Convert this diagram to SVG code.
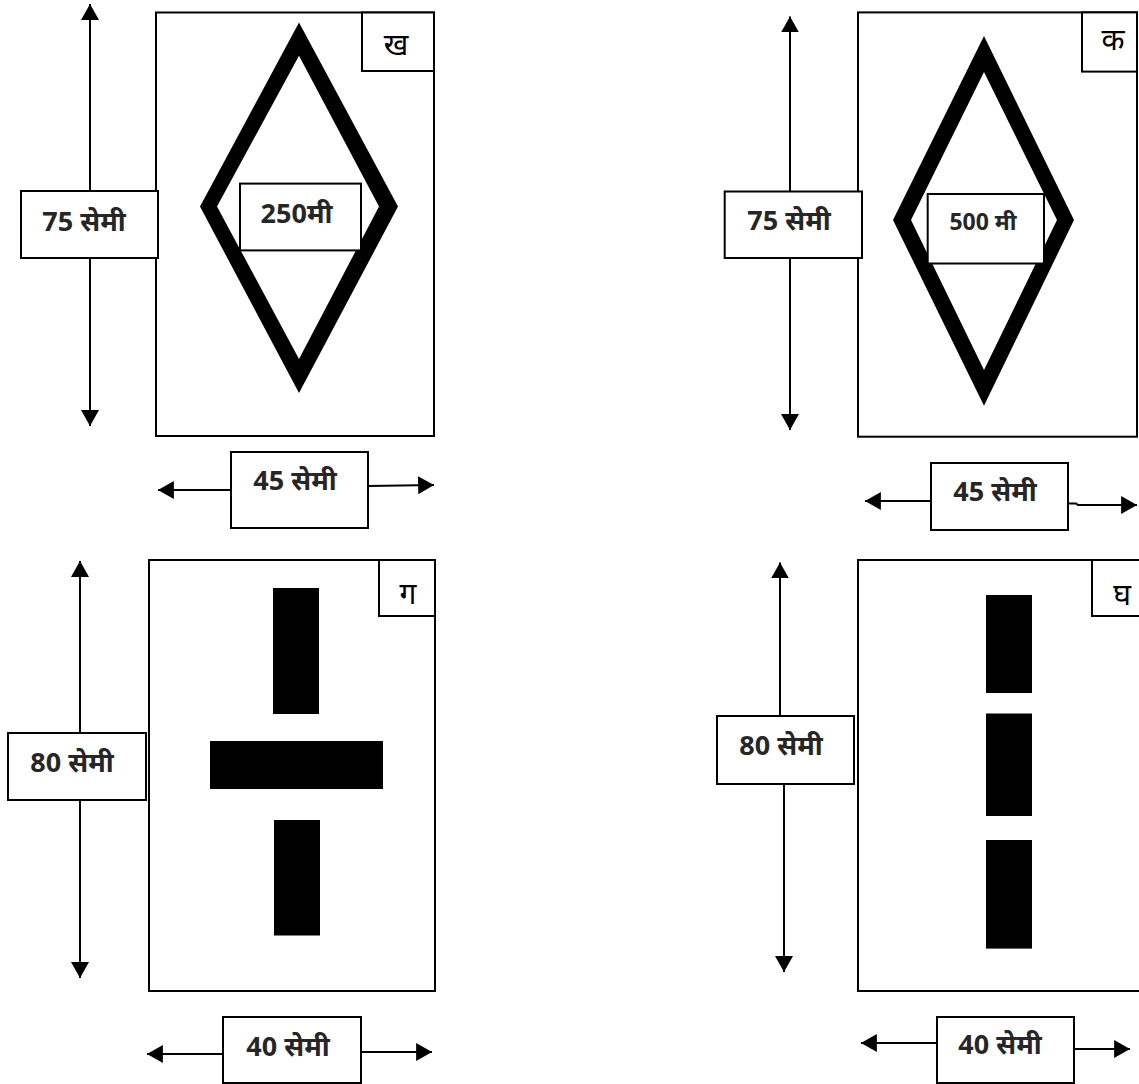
<svg xmlns="http://www.w3.org/2000/svg" width="1139" height="1084" viewBox="0 0 1139 1084">
<style>
.frame{fill:#fff;stroke:#000;stroke-width:2}
.box{fill:#fff;stroke:#000;stroke-width:2}
.conn{fill:none;stroke:#000;stroke-width:2}
.sym{fill:#000}
.lbl{font-family:"Noto Sans","Noto Sans Devanagari",sans-serif;font-weight:bold;font-size:27px;fill:#262626;text-anchor:middle}
.sm{font-size:23px}
.tag{font-family:"Noto Sans","Noto Sans Devanagari",sans-serif;font-size:30px;fill:#000;text-anchor:middle}
</style>
<defs>
<marker id="ah" markerUnits="userSpaceOnUse" markerWidth="16" markerHeight="18" viewBox="0 0 15 17" refX="15" refY="8.5" orient="auto">
<path d="M0,0 L15,8.5 L0,17 Z" fill="#000"/>
</marker>
</defs>

<g id="panel-kha">
<rect class="frame" x="156" y="12.5" width="278" height="423.5"/>
<path class="sym" fill-rule="evenodd" d="M299,22.6 L398,206.5 L299,393 L200,206.5 Z M299,55.7 L379,206.5 L299,359 L217,206.5 Z"/>
<rect class="box" x="362" y="12.5" width="72" height="58.5"/>
<text class="tag" x="396" y="55">ख</text>
</g>
<g id="label-250">
<rect class="box" x="240" y="183.6" width="121" height="66.8"/>
<text class="lbl" x="296.5" y="223">250मी</text>
</g>

<g id="panel-ka">
<rect class="frame" x="858" y="12.4" width="279" height="424.3"/>
<path class="sym" fill-rule="evenodd" d="M984,36 L1074,220 L984,405.7 L893,220 Z M984,72 L1057,220 L984,370 L911,220 Z"/>
<rect class="box" x="1082" y="12.4" width="55" height="59.2"/>
<text class="tag" x="1113" y="50">क</text>
</g>
<g id="label-500">
<rect class="box" x="927.7" y="194" width="116.3" height="69.5"/>
<text class="lbl sm" x="983" y="230">500 मी</text>
</g>

<g id="panel-ga">
<rect class="frame" x="149" y="560" width="286" height="431"/>
<rect class="sym" x="273" y="588" width="46" height="126"/>
<rect class="sym" x="210" y="741" width="173" height="48"/>
<rect class="sym" x="274" y="820" width="46" height="115.5"/>
<rect class="box" x="379" y="560" width="56" height="56"/>
<text class="tag" x="408" y="604">ग</text>
</g>

<g id="panel-gha">
<rect class="frame" x="858" y="560" width="290" height="431"/>
<rect class="sym" x="986" y="595" width="46" height="98"/>
<rect class="sym" x="986" y="713.5" width="46" height="102.5"/>
<rect class="sym" x="986" y="840" width="46" height="108.6"/>
<rect class="box" x="1092" y="560" width="60" height="56"/>
<text class="tag" x="1122" y="605">घ</text>
</g>

<g id="connectors">
<line class="conn" x1="90" y1="191" x2="90" y2="4" marker-end="url(#ah)"/>
<line class="conn" x1="90" y1="258" x2="90" y2="426" marker-end="url(#ah)"/>
<line class="conn" x1="231" y1="490" x2="158" y2="490" marker-end="url(#ah)"/>
<line class="conn" x1="368" y1="486" x2="434" y2="485" marker-end="url(#ah)"/>

<line class="conn" x1="790" y1="191.5" x2="790" y2="16.5" marker-end="url(#ah)"/>
<line class="conn" x1="790" y1="258" x2="790" y2="430" marker-end="url(#ah)"/>
<line class="conn" x1="931" y1="501" x2="865" y2="501" marker-end="url(#ah)"/>
<polyline class="conn" points="1068,503.5 1076,503.5 1078,505 1137,505" marker-end="url(#ah)"/>

<line class="conn" x1="80" y1="733" x2="80" y2="561" marker-end="url(#ah)"/>
<line class="conn" x1="80" y1="800" x2="80" y2="978" marker-end="url(#ah)"/>
<line class="conn" x1="223" y1="1054" x2="147" y2="1054" marker-end="url(#ah)"/>
<line class="conn" x1="361" y1="1052" x2="432" y2="1052" marker-end="url(#ah)"/>

<line class="conn" x1="780" y1="716" x2="780" y2="562.5" marker-end="url(#ah)"/>
<line class="conn" x1="784" y1="784" x2="784" y2="972" marker-end="url(#ah)"/>
<line class="conn" x1="937" y1="1043" x2="861" y2="1043" marker-end="url(#ah)"/>
<line class="conn" x1="1074" y1="1049" x2="1130" y2="1049" marker-end="url(#ah)"/>
</g>

<g id="dim-kha-h">
<rect class="box" x="21" y="191" width="137" height="67"/>
<text class="lbl" x="84" y="231">75 सेमी</text>
</g>
<g id="dim-kha-w">
<rect class="box" x="231" y="452" width="137" height="76"/>
<text class="lbl" x="295" y="490">45 सेमी</text>
</g>
<g id="dim-ka-h">
<rect class="box" x="724.7" y="191.5" width="137.3" height="66.5"/>
<text class="lbl" x="789" y="230">75 सेमी</text>
</g>
<g id="dim-ka-w">
<rect class="box" x="931" y="463" width="137" height="67"/>
<text class="lbl" x="995" y="501">45 सेमी</text>
</g>
<g id="dim-ga-h">
<rect class="box" x="8" y="733" width="138" height="67"/>
<text class="lbl" x="72" y="772">80 सेमी</text>
</g>
<g id="dim-ga-w">
<rect class="box" x="223" y="1017" width="138" height="66"/>
<text class="lbl" x="288" y="1056">40 सेमी</text>
</g>
<g id="dim-gha-h">
<rect class="box" x="717" y="716" width="137" height="68"/>
<text class="lbl" x="781" y="755">80 सेमी</text>
</g>
<g id="dim-gha-w">
<rect class="box" x="937" y="1017" width="137" height="66"/>
<text class="lbl" x="1000" y="1054">40 सेमी</text>
</g>
</svg>
